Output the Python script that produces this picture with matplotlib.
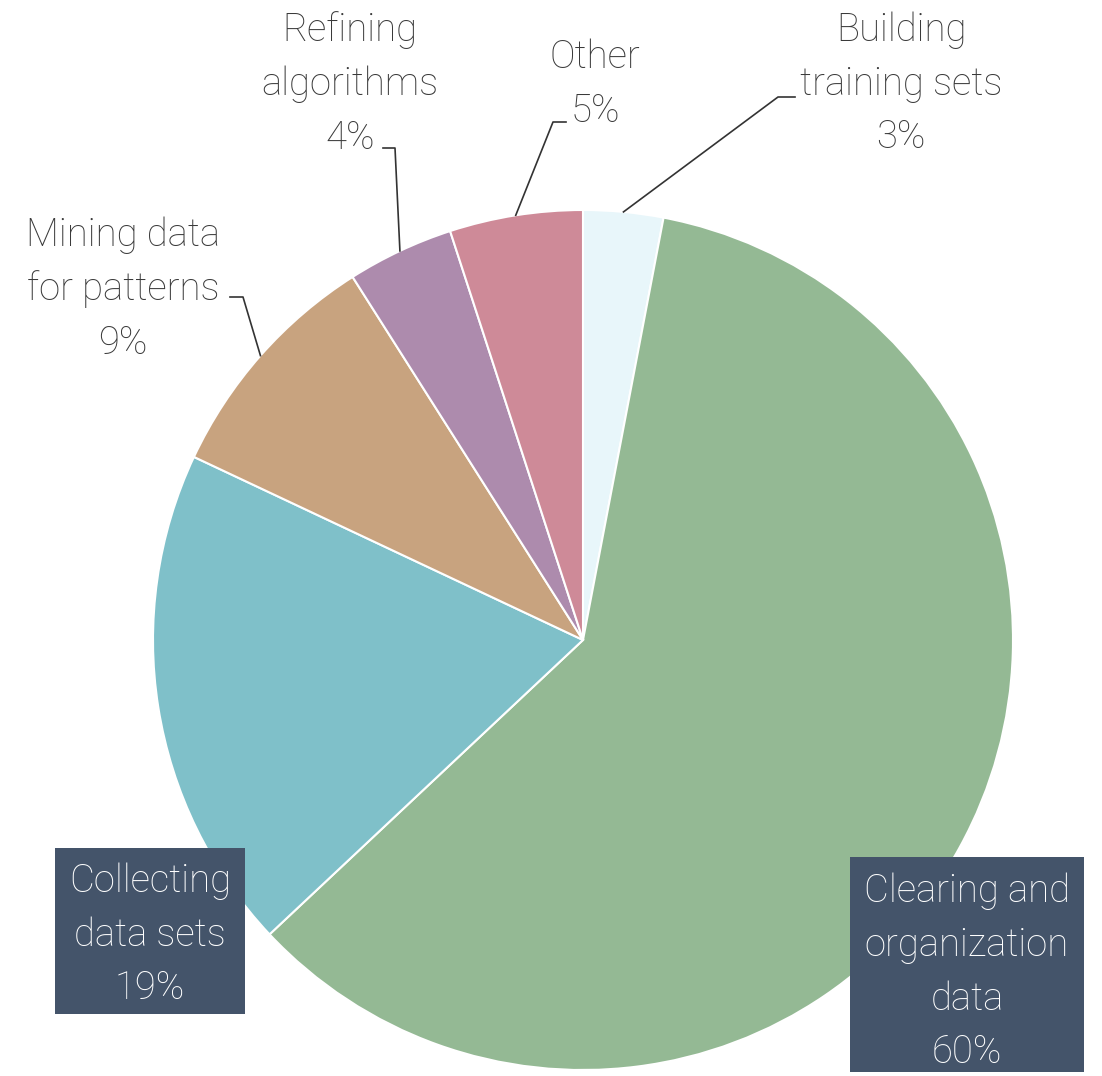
import numpy as np
import matplotlib
matplotlib.use("Agg")
import matplotlib.pyplot as plt

categories = ["Building\ntraining sets", "Clearing and\norganization\ndata", "Collecting\ndata sets",
              "Mining data\nfor patterns", "Refining\nalgorithms", "Other"]
values = [3, 60, 19, 9, 4, 5]
colors = ["#e8f6fa", "#94b994", "#7fc0c9", "#c8a37f", "#ad8bad", "#ce8a98"]

W, H = 1102, 1076
fam = ["Roboto", "DejaVu Sans"]
fig = plt.figure(figsize=(W / 100, H / 100), dpi=100)
ax = fig.add_axes([0, 0, 1, 1])

def Y(y):
    return H - y

cx, cy, R = 583, 640, 430
wedges, _ = ax.pie(values, colors=colors, startangle=90, counterclock=False,
                   center=(cx, Y(cy)), radius=R, frame=True,
                   wedgeprops=dict(edgecolor="white", linewidth=1.5))
ax.set_xlim(0, W)
ax.set_ylim(0, H)
ax.axis("off")

fs = 27.5
ls = 1.55
tcol = "#3a3a3a"
fw = "light"

def mid_point(w):
    a = np.deg2rad((w.theta1 + w.theta2) / 2)
    return cx + R * np.cos(a), Y(cy) + R * np.sin(a)

# outside labels: (index, elbow x, elbow y, end x, text x, text centre y)
outside = [
    (0, 778, 97, 795, 901, 84),
    (5, 553, 122, 566, 595, 84),
    (4, 395, 148, 383, 350, 84),
    (3, 243, 297, 230, 123, 289),
]
for i, ex, ey, endx, tx, ty in outside:
    sx, sy = mid_point(wedges[i])
    ax.plot([sx, ex, endx], [sy, Y(ey), Y(ey)], color="#333333", lw=1.2)
    txt = f"{categories[i]}\n{values[i]}%"
    ax.text(tx, Y(ty), txt, ha="center", va="center", fontsize=fs, color=tcol,
            family=fam, fontweight=fw, linespacing=ls)

# boxed labels: (index, box x0, y0, x1, y1, text centre y)
boxed = [
    (2, 55, 848, 245, 1014, 935),
    (1, 850, 857, 1084, 1072, 972),
]
for i, x0, y0, x1, y1, ty in boxed:
    ax.add_patch(plt.Rectangle((x0, Y(y1)), x1 - x0, y1 - y0, facecolor="#44546a",
                               edgecolor="none", zorder=5))
    txt = f"{categories[i]}\n{values[i]}%"
    ax.text((x0 + x1) / 2, Y(ty), txt, ha="center", va="center",
            fontsize=fs, color="white", family=fam, fontweight=fw,
            linespacing=ls, zorder=6)

fig.savefig("out.png", dpi=100)
